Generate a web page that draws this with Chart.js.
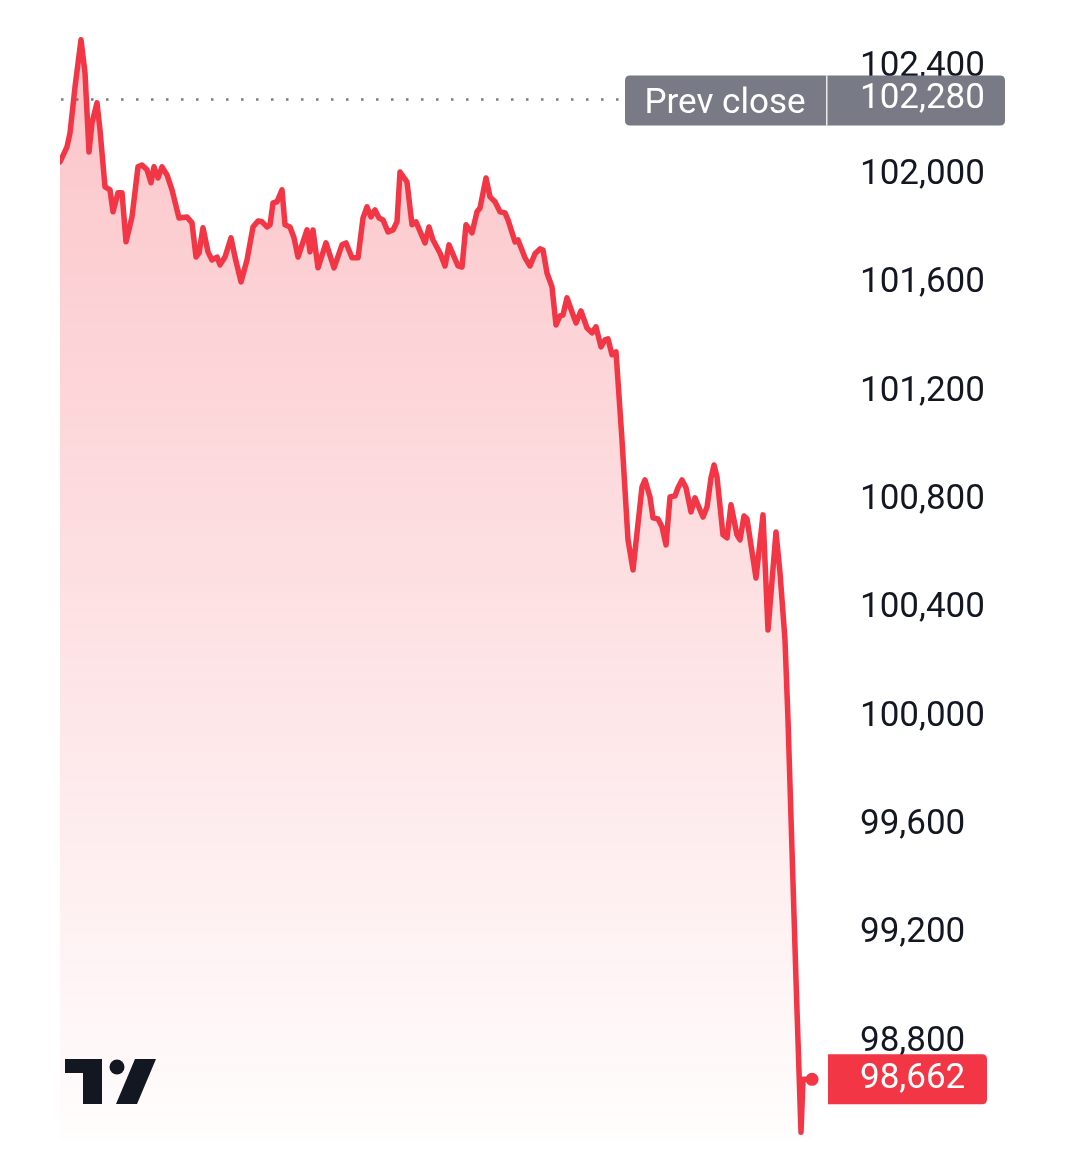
<!DOCTYPE html>
<html lang="en">
<head>
    <meta charset="UTF-8">
    <title>Price chart</title>
    <script src="https://cdn.jsdelivr.net/npm/chart.js"></script>
    <style>
        body { margin: 0; background: #ffffff; }
        #wrap { width: 1080px; height: 1149px; }
    </style>
</head>
<body>
    <div id="wrap">
        <canvas id="priceChart" width="1080" height="1149"></canvas>
    </div>

    <script>
        // time offsets (arbitrary units)
        const times = [
            0, 7, 10, 15, 21, 25, 29, 32, 37, 40, 45, 50, 53, 58, 62, 66, 72, 78, 82, 87,
            91, 94, 98, 102, 107, 112, 119, 127, 132, 136, 139, 143, 148, 152, 157, 160, 165, 171, 175, 181,
            187, 193, 198, 202, 207, 210, 213, 217, 222, 225, 230, 234, 238, 247, 250, 253, 258, 266, 274, 282,
            286, 292, 298, 303, 307, 311, 315, 319, 323, 328, 333, 337, 340, 347, 352, 356, 365, 369, 373, 380,
            385, 389, 398, 402, 406, 412, 417, 420, 426, 430, 435, 440, 445, 448, 455, 458, 465, 470, 475, 480,
            483, 487, 492, 496, 500, 503, 507, 512, 516, 521, 527, 532, 536, 541, 545, 548, 552, 556, 562, 568,
            573, 582, 585, 590, 593, 598, 602, 606, 610, 615, 618, 622, 626, 631, 635, 640, 643, 647, 651, 654,
            657, 663, 667, 671, 677, 680, 684, 687, 696, 703, 708, 716, 720, 725, 728, 732, 736, 741, 743, 752
        ];
        // prices
        const prices = [
            102049, 102105, 102156, 102326, 102500, 102378, 102086, 102193, 102267, 102167, 101957, 101946, 101865, 101935, 101935, 101754, 101846, 102031, 102038, 102020,
            101972, 102031, 101990, 102031, 102001, 101946, 101842, 101846, 101824, 101698, 101713, 101806, 101717, 101687, 101698, 101669, 101698, 101769, 101698, 101606,
            101687, 101809, 101831, 101828, 101809, 101817, 101898, 101902, 101946, 101817, 101809, 101769, 101698, 101798, 101717, 101798, 101658, 101750, 101658, 101743,
            101750, 101695, 101695, 101842, 101883, 101846, 101872, 101842, 101835, 101791, 101798, 101828, 102012, 101975, 101817, 101828, 101750, 101809, 101761, 101713,
            101665, 101743, 101665, 101661, 101817, 101787, 101865, 101879, 101990, 101920, 101902, 101865, 101861, 101835, 101754, 101761, 101695, 101665, 101710, 101728,
            101724, 101639, 101588, 101447, 101481, 101484, 101547, 101495, 101455, 101499, 101436, 101418, 101440, 101366, 101392, 101396, 101337, 101348, 101023, 100654,
            100543, 100849, 100875, 100812, 100735, 100731, 100702, 100635, 100812, 100816, 100846, 100875, 100846, 100757, 100809, 100764, 100738, 100775, 100883, 100930,
            100886, 100672, 100661, 100783, 100672, 100654, 100742, 100731, 100513, 100746, 100321, 100683, 100532, 100284, 99989, 99509, 99029, 98467, 98662, 98662
        ];
        const tickValues = [102400, 102000, 101600, 101200, 100800, 100400, 100000, 99600, 99200, 98800];
        const prevClose = 102280;
        const lastPrice = 98662;

        const RED = '#f23645';
        const GREY = '#787b86';
        const FONT = 'Roboto, "Noto Sans", sans-serif';

        function roundRect(ctx, x, y, w, h, r) {
            ctx.beginPath();
            ctx.moveTo(x + r[0], y);
            ctx.lineTo(x + w - r[1], y);
            ctx.quadraticCurveTo(x + w, y, x + w, y + r[1]);
            ctx.lineTo(x + w, y + h - r[2]);
            ctx.quadraticCurveTo(x + w, y + h, x + w - r[2], y + h);
            ctx.lineTo(x + r[3], y + h);
            ctx.quadraticCurveTo(x, y + h, x, y + h - r[3]);
            ctx.lineTo(x, y + r[0]);
            ctx.quadraticCurveTo(x, y, x + r[0], y);
            ctx.closePath();
        }

        // dotted previous-close line, drawn under the price line
        const prevLinePlugin = {
            id: 'prevLine',
            beforeDatasetsDraw(chart) {
                const ctx = chart.ctx;
                const y = chart.scales.y.getPixelForValue(prevClose);
                ctx.save();
                ctx.strokeStyle = GREY;
                ctx.lineWidth = 2.5;
                ctx.setLineDash([2.5, 12.5]);
                ctx.beginPath();
                ctx.moveTo(chart.chartArea.left + 1, y);
                ctx.lineTo(622, y);
                ctx.stroke();
                ctx.restore();
            }
        };

        // price labels and logo on top of everything
        const labelsPlugin = {
            id: 'labels',
            afterDraw(chart) {
                const ctx = chart.ctx;
                const ys = chart.scales.y;
                ctx.save();
                ctx.font = '35px ' + FONT;
                ctx.textBaseline = 'middle';

                // prev close box
                let y = ys.getPixelForValue(prevClose);
                ctx.fillStyle = GREY;
                roundRect(ctx, 625, y - 24, 380, 50, [5, 5, 5, 5]);
                ctx.fill();
                ctx.fillStyle = 'rgba(255,255,255,0.85)';
                ctx.fillRect(826, y - 24, 1.5, 50);
                ctx.fillStyle = '#ffffff';
                ctx.textAlign = 'center';
                ctx.fillText('Prev close', 725, y + 5);
                ctx.textAlign = 'left';
                ctx.fillText(prevClose.toLocaleString('en-US'), 860, y);

                // last price box
                y = ys.getPixelForValue(lastPrice);
                ctx.fillStyle = RED;
                roundRect(ctx, 828, y - 25, 159, 50, [0, 5, 5, 0]);
                ctx.fill();
                ctx.fillStyle = '#ffffff';
                ctx.fillText(lastPrice.toLocaleString('en-US'), 860, y);

                // logo
                ctx.fillStyle = '#131722';
                ctx.fillRect(65, 1059, 37, 14);
                ctx.fillRect(83, 1059, 19, 45);
                ctx.beginPath();
                ctx.arc(117, 1067, 7.5, 0, Math.PI * 2);
                ctx.fill();
                ctx.beginPath();
                ctx.moveTo(135, 1059);
                ctx.lineTo(156, 1059);
                ctx.lineTo(137, 1104);
                ctx.lineTo(116, 1104);
                ctx.closePath();
                ctx.fill();
                ctx.restore();
            }
        };

        const ctx = document.getElementById('priceChart').getContext('2d');
        new Chart(ctx, {
            type: 'line',
            data: {
                datasets: [{
                    data: times.map((t, i) => ({ x: t, y: prices[i] })),
                    borderColor: RED,
                    borderWidth: 5.5,
                    borderJoinStyle: 'round',
                    borderCapStyle: 'round',
                    tension: 0,
                    fill: 'start',
                    backgroundColor: (c) => {
                        const area = c.chart.chartArea;
                        if (!area) return 'rgba(242,54,69,0.2)';
                        const g = c.chart.ctx.createLinearGradient(0, area.top, 0, area.bottom);
                        g.addColorStop(0, 'rgba(242,54,69,0.30)');
                        g.addColorStop(1, 'rgba(242,54,69,0.01)');
                        return g;
                    },
                    pointRadius: (c) => c.dataIndex === prices.length - 1 ? 6.5 : 0,
                    pointBackgroundColor: RED,
                    pointBorderWidth: 0
                }]
            },
            options: {
                responsive: false,
                animation: false,
                layout: { padding: { left: 60, top: 10, bottom: 9, right: 0 } },
                plugins: {
                    legend: { display: false },
                    tooltip: { enabled: false }
                },
                scales: {
                    x: {
                        type: 'linear',
                        display: false,
                        min: 0,
                        max: 780
                    },
                    y: {
                        position: 'right',
                        min: 98438,
                        max: 102610,
                        afterFit: (scale) => {
                            scale.width = 240;
                            scale.paddingTop = 0;
                            scale.paddingBottom = 0;
                        },
                        afterBuildTicks: (scale) => {
                            scale.ticks = tickValues.map(v => ({ value: v }));
                        },
                        grid: { display: false, drawTicks: false },
                        border: { display: false },
                        ticks: {
                            padding: 20,
                            color: '#131722',
                            font: { family: FONT, size: 35 },
                            callback: (v) => v.toLocaleString('en-US')
                        }
                    }
                }
            },
            plugins: [prevLinePlugin, labelsPlugin]
        });
    </script>
</body>
</html>
